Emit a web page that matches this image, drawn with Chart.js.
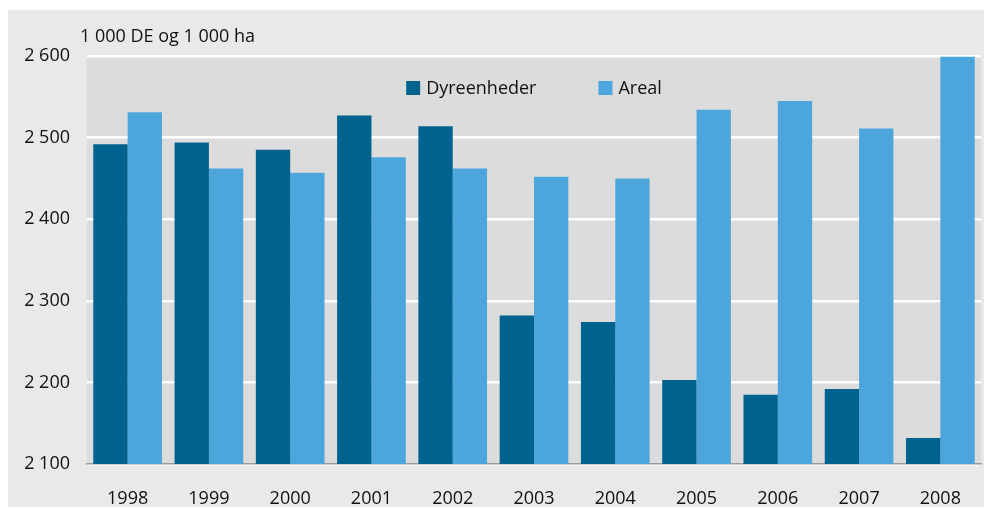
<!DOCTYPE html>
<html>
<head>
<meta charset="utf-8">
<script src="https://cdn.jsdelivr.net/npm/chart.js@4/dist/chart.umd.min.js"></script>
<style>
  html, body { margin: 0; padding: 0; background: #fff; }
  #wrap { width: 984px; height: 509px; }
</style>
</head>
<body>
<div id="wrap"><canvas id="bar-chart" width="984" height="509"></canvas></div>
<script>
// years on the x axis
let years = ['1998', '1999', '2000', '2001', '2002', '2003', '2004', '2005', '2006', '2007', '2008'];

// 1 000 DE
let dyreenheder = [2492, 2494, 2485, 2527, 2514, 2282, 2274, 2203, 2185, 2192, 2132];
// 1 000 ha
let areal = [2531, 2462, 2457, 2476, 2462, 2452, 2450, 2534, 2545, 2511, 2599];

let seriesNames = ['Dyreenheder', 'Areal'];
let seriesColors = ['#00628f', '#4ca6dc'];
let yTitle = '1 000 DE og 1 000 ha';

let fontFamily = '"Open Sans", sans-serif';
let textColor = '#111111';

// number like 2 600 (space as thousands separator)
const fmt = (v) => {
  let s = String(Math.round(v));
  return s.replace(/\B(?=(\d{3})+(?!\d))/g, ' ');
};

// grey panels behind everything
const backgroundPlugin = {
  id: 'panels',
  beforeDraw(chart) {
    let ctx = chart.ctx;
    let a = chart.chartArea;
    ctx.save();
    ctx.fillStyle = '#e9e9e9';
    ctx.fillRect(8, 10, chart.width - 8, chart.height - 12);
    ctx.fillStyle = '#dcdcdc';
    ctx.fillRect(a.left, a.top, a.right - a.left, a.bottom - a.top);
    ctx.restore();
  },
};

// unit text + legend drawn inside the plot
const labelsPlugin = {
  id: 'labels',
  afterDraw(chart) {
    let ctx = chart.ctx;
    let a = chart.chartArea;
    ctx.save();
    ctx.font = '18px ' + fontFamily;
    ctx.fillStyle = textColor;
    ctx.textBaseline = 'alphabetic';
    ctx.textAlign = 'left';
    ctx.fillText(yTitle, a.left - 7, 42);

    // legend
    let box = 14, gapText = 6, gapItem = 62;
    let widths = seriesNames.map((n) => box + gapText + ctx.measureText(n).width);
    let total = widths.reduce((s, w) => s + w, 0) + gapItem * (seriesNames.length - 1);
    let x = (a.left + a.right) / 2 - total / 2;
    seriesNames.forEach((name, i) => {
      ctx.fillStyle = seriesColors[i];
      ctx.fillRect(x, 81, box, box);
      ctx.fillStyle = textColor;
      ctx.fillText(name, x + box + gapText, 94);
      x += widths[i] + gapItem;
    });
    ctx.restore();
  },
};

let renderChart = () => {
  let el = document.getElementById('bar-chart');
  new Chart(el, {
    type: 'bar',
    data: {
      labels: years,
      datasets: [
        {
          label: seriesNames[0],
          data: dyreenheder,
          backgroundColor: seriesColors[0],
          categoryPercentage: 0.845,
          barPercentage: 1,
        },
        {
          label: seriesNames[1],
          data: areal,
          backgroundColor: seriesColors[1],
          categoryPercentage: 0.845,
          barPercentage: 1,
        },
      ],
    },
    options: {
      responsive: false,
      animation: false,
      layout: { padding: { top: 56, right: 3, bottom: 2, left: 0 } },
      plugins: {
        legend: { display: false },
        tooltip: { enabled: false },
      },
      scales: {
        x: {
          afterFit: (s) => { s.height = 43; },
          grid: { display: false },
          border: { display: true, color: '#9a9a9a', width: 1.5 },
          ticks: {
            color: textColor,
            font: { family: fontFamily, size: 18 },
            padding: 16,
          },
        },
        y: {
          min: 2100,
          max: 2600,
          afterFit: (s) => { s.width = 87; },
          grid: { color: '#ffffff', lineWidth: 2.5, drawTicks: false },
          border: { display: false },
          ticks: {
            stepSize: 100,
            color: textColor,
            font: { family: fontFamily, size: 18 },
            padding: 17,
            callback: (v) => fmt(v),
          },
        },
      },
    },
    plugins: [backgroundPlugin, labelsPlugin],
  });
};

renderChart();
</script>
</body>
</html>
